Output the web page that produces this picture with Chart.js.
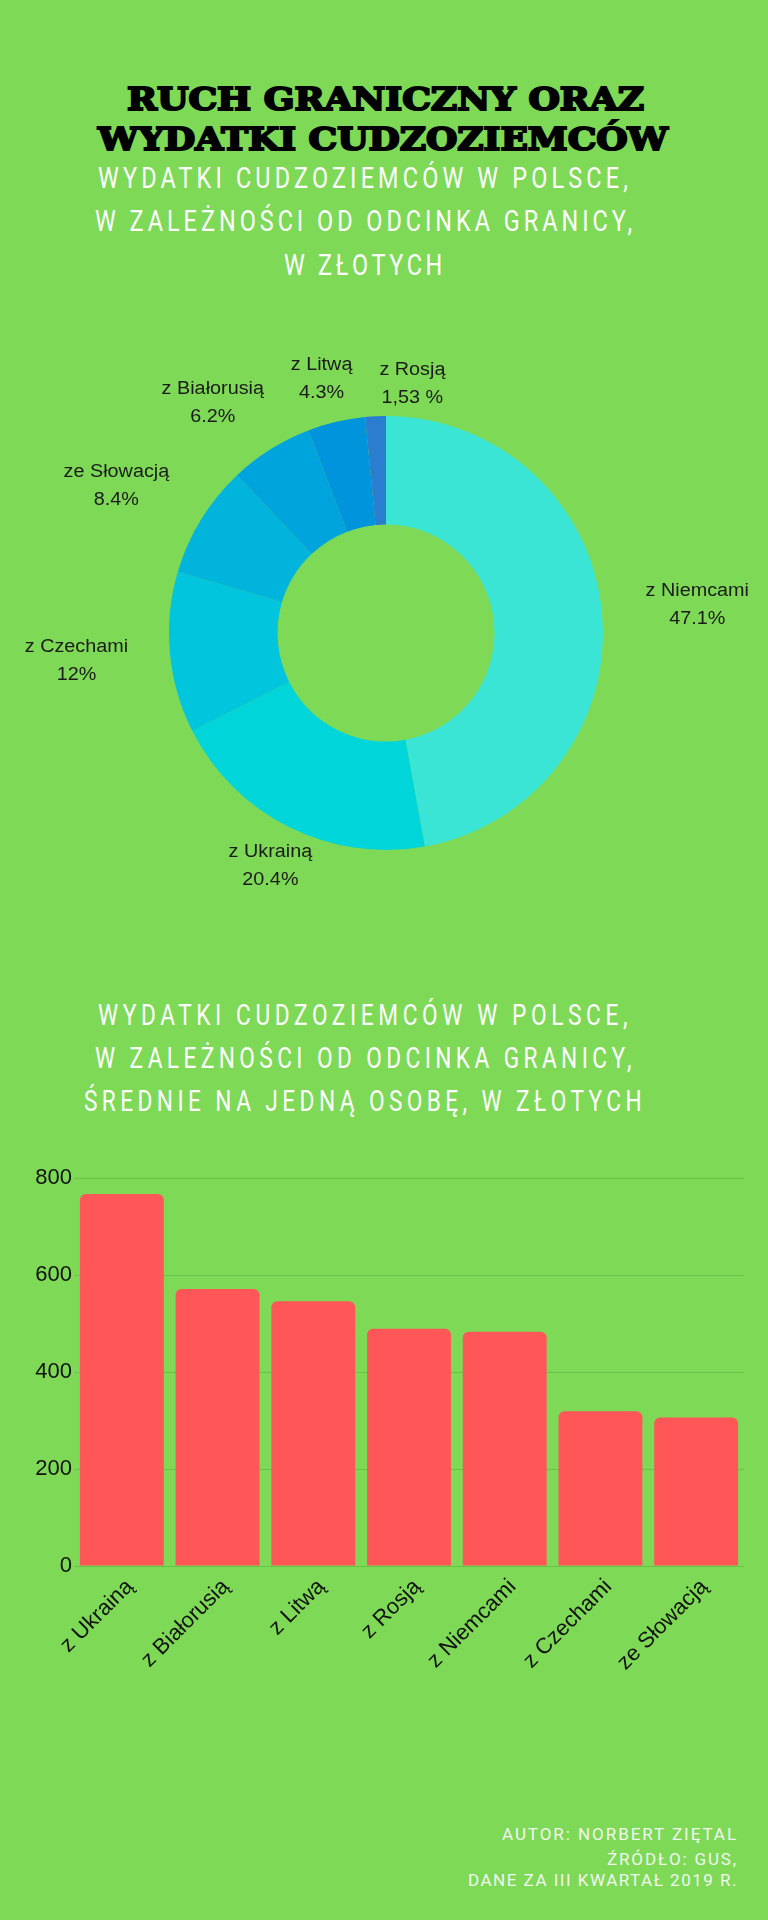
<!DOCTYPE html>
<html>
<head>
<meta charset="utf-8">
<script src="https://cdn.jsdelivr.net/npm/chart.js@4/dist/chart.umd.min.js"></script>
<style>
  html, body { margin: 0; padding: 0; background: #7ed957; overflow: hidden; }
  #page { position: relative; width: 768px; height: 1920px; background: #7ed957; overflow: hidden; }
  .t { position: absolute; white-space: nowrap; line-height: 1; }
  .title { font-family: "DejaVu Serif", serif; font-weight: bold; color: #000; -webkit-text-stroke: 2px #000; }
  .sub { font-family: Roboto, "DejaVu Sans", sans-serif; font-weight: 400; color: #ffffff; }
  .foot { font-family: Roboto, "DejaVu Sans", sans-serif; font-weight: 400; color: #f2f6ef; }
  canvas { position: absolute; left: 0; }
</style>
</head>
<body>
<div id="page">
  <span class="t title" data-mode="scale" data-size="31" data-cx="385" data-cy="99" data-w="517">RUCH GRANICZNY ORAZ</span>
  <span class="t title" data-mode="scale" data-size="31" data-cx="383" data-cy="139" data-w="570">WYDATKI CUDZOZIEMCÓW</span>

  <span class="t sub" data-c="0.78" data-size="30" data-cx="365" data-cy="178" data-w="534">WYDATKI CUDZOZIEMCÓW W POLSCE,</span>
  <span class="t sub" data-c="0.78" data-size="30" data-cx="365" data-cy="221" data-w="541">W ZALEŻNOŚCI OD ODCINKA GRANICY,</span>
  <span class="t sub" data-c="0.78" data-size="30" data-cx="365" data-cy="265" data-w="162">W ZŁOTYCH</span>

  <canvas id="donut" width="768" height="600" style="top:333px"></canvas>

  <span class="t sub" data-c="0.78" data-size="29" data-cx="365" data-cy="1015" data-w="534">WYDATKI CUDZOZIEMCÓW W POLSCE,</span>
  <span class="t sub" data-c="0.78" data-size="29" data-cx="365" data-cy="1058" data-w="541">W ZALEŻNOŚCI OD ODCINKA GRANICY,</span>
  <span class="t sub" data-c="0.78" data-size="29" data-cx="365" data-cy="1101" data-w="562">ŚREDNIE NA JEDNĄ OSOBĘ, W ZŁOTYCH</span>

  <canvas id="bars" width="768" height="520" style="top:1160px"></canvas>

  <span class="t foot" data-size="17" data-r="738" data-cy="1834" data-w="236">AUTOR: NORBERT ZIĘTAL</span>
  <span class="t foot" data-size="17" data-r="738" data-cy="1859" data-w="131">ŹRÓDŁO: GUS,</span>
  <span class="t foot" data-size="17" data-r="738" data-cy="1880" data-w="270">DANE ZA III KWARTAŁ 2019 R.</span>
</div>

<script>
// ---------- DATA ----------
const donutLabels = ['z Niemcami', 'z Ukrainą', 'z Czechami', 'ze Słowacją', 'z Białorusią', 'z Litwą', 'z Rosją'];
const donutShares = [47.1, 20.4, 12, 8.4, 6.2, 4.3, 1.53];
const donutShareText = ['47.1%', '20.4%', '12%', '8.4%', '6.2%', '4.3%', '1,53 %'];
const donutColors = ['#3ae5d5', '#00d5d9', '#00c5dc', '#00b4dc', '#00a4dd', '#0094dc', '#2b7dcf'];

const barLabels = ['z Ukrainą', 'z Białorusią', 'z Litwą', 'z Rosją', 'z Niemcami', 'z Czechami', 'ze Słowacją'];
const barValues = [767, 571, 546, 489, 483, 319, 306];
const yTickValues = [0, 200, 400, 600, 800];

const SANS = '"Liberation Sans", Arial, sans-serif';

// ---------- TEXT FITTING ----------
function placeText(el) {
  const size = +el.dataset.size;
  const target = +el.dataset.w;
  el.style.fontSize = size + 'px';
  el.style.transform = 'none';
  el.style.letterSpacing = '0px';
  const w0 = el.getBoundingClientRect().width;
  const n = el.textContent.length;
  let sc, ls;
  if (el.dataset.mode === 'scale') {
    ls = 0; sc = target / w0;
  } else {
    const c = +(el.dataset.c || 1);
    ls = (target / c - w0) / n;
    sc = c;
    if (ls < 0) { ls = 0; sc = target / w0; }
  }
  el.style.letterSpacing = ls + 'px';
  el.style.transformOrigin = '0 0';
  el.style.transform = 'scaleX(' + sc + ')';
  el.style.top = (+el.dataset.cy - 0.485 * size) + 'px';
  if (el.dataset.cx) el.style.left = (+el.dataset.cx - target / 2) + 'px';
  else el.style.left = (+el.dataset.r - target) + 'px';
}
document.querySelectorAll('.t').forEach(placeText);

// ---------- DONUT ----------
const LABEL_SX = 1.1;
const donutLabelPlugin = {
  id: 'donutLabels',
  afterDatasetsDraw(chart) {
    const ctx = chart.ctx;
    const arcs = chart.getDatasetMeta(0).data;
    const n = arcs.length;
    ctx.save();
    ctx.font = '18px ' + SANS;
    const widths = arcs.map((a, i) => LABEL_SX * Math.max(ctx.measureText(donutLabels[i]).width,
                                                         ctx.measureText(donutShareText[i]).width));
    const boxH = 46, mx = 26, my = 37;
    // angle measured clockwise from 12 o'clock, starting at the slice middle
    const th = arcs.map(a => (a.startAngle + a.endAngle) / 2 + Math.PI / 2);
    const pos = (i) => {
      const t = th[i];
      const r = 233 + 79 * Math.abs(Math.sin(t)) + 9.4 * Math.cos(t);
      return { x: arcs[i].x + r * Math.sin(t), y: arcs[i].y - r * Math.cos(t) };
    };
    const step = 0.2 * Math.PI / 180;
    for (let it = 0; it < 500; it++) {
      let moved = false;
      for (let i = 0; i < n - 1; i++) {
        const p = pos(i), q = pos(i + 1);
        const ox = (widths[i] + widths[i + 1]) / 2 + mx - Math.abs(p.x - q.x);
        const oy = boxH + my - Math.abs(p.y - q.y);
        if (ox > 0 && oy > 0) { th[i] -= step; th[i + 1] += step; moved = true; }
      }
      if (!moved) break;
    }
    ctx.fillStyle = '#1b1b1b';
    ctx.textAlign = 'center';
    ctx.textBaseline = 'middle';
    arcs.forEach((a, i) => {
      const p = pos(i);
      [[donutLabels[i], -14], [donutShareText[i], 14]].forEach(([txt, dy]) => {
        ctx.save();
        ctx.translate(p.x, p.y + dy);
        ctx.scale(LABEL_SX, 1);
        ctx.fillText(txt, 0, 0);
        ctx.restore();
      });
    });
    ctx.restore();
  }
};

new Chart(document.getElementById('donut'), {
  type: 'doughnut',
  data: {
    labels: donutLabels,
    datasets: [{
      data: donutShares,
      backgroundColor: donutColors,
      borderWidth: 0
    }]
  },
  options: {
    responsive: false,
    animation: false,
    radius: 217,
    cutout: '50%',
    layout: { padding: { left: 4 } },
    plugins: { legend: { display: false }, tooltip: { enabled: false } }
  },
  plugins: [donutLabelPlugin]
});

// ---------- BARS ----------
new Chart(document.getElementById('bars'), {
  type: 'bar',
  data: {
    labels: barLabels,
    datasets: [{
      data: barValues,
      backgroundColor: '#ff5757',
      borderWidth: 0,
      borderRadius: { topLeft: 6, topRight: 6, bottomLeft: 0, bottomRight: 0 },
      borderSkipped: 'start',
      categoryPercentage: 1,
      barPercentage: 0.877
    }]
  },
  options: {
    responsive: false,
    animation: false,
    layout: { padding: { top: 18, right: 24, left: 0, bottom: 0 } },
    plugins: { legend: { display: false }, tooltip: { enabled: false } },
    scales: {
      x: {
        grid: { display: false },
        border: { display: false },
        ticks: {
          color: '#111',
          font: { family: SANS, size: 22 },
          minRotation: 45,
          maxRotation: 45,
          autoSkip: false,
          padding: 0,
          labelOffset: 8
        },
        afterFit(s) { s.height = 114; }
      },
      y: {
        min: 0,
        max: 800,
        afterBuildTicks(s) { s.ticks = yTickValues.map(v => ({ value: v })); },
        grid: { color: '#67c247', lineWidth: 1, drawTicks: false },
        border: { display: false },
        ticks: {
          color: '#111',
          font: { family: SANS, size: 22 },
          padding: 2
        },
        afterFit(s) { s.width = 74; }
      }
    }
  }
});
</script>
</body>
</html>
